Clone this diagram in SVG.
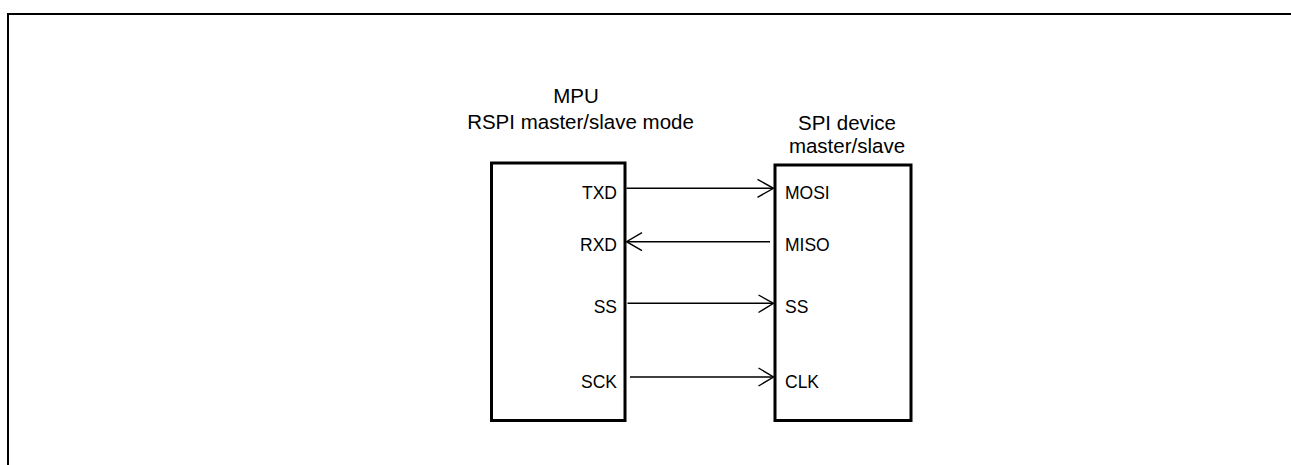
<svg xmlns="http://www.w3.org/2000/svg" width="1291" height="465" viewBox="0 0 1291 465">
<style>
.frame{fill:none;stroke:#000;stroke-width:2}
.box{fill:#fff;stroke:#000;stroke-width:3}
.title{font-family:"Liberation Sans",Arial,sans-serif;font-size:20.5px;fill:#000;text-anchor:middle}
.lbl{font-family:"Liberation Sans",Arial,sans-serif;font-size:17.5px;fill:#000}
.r{text-anchor:end}
.conn{fill:none;stroke:#000;stroke-width:1.4}
.head{fill:none;stroke:#000;stroke-width:1.4;stroke-linejoin:miter}
</style>
<rect width="1291" height="465" fill="#fff"/>
<path class="frame" d="M8,466 V14 H1292"/>
<g id="mpu">
<text class="title" x="576" y="102.7">MPU</text>
<text class="title" x="580.5" y="128.5">RSPI master/slave mode</text>
<rect class="box" x="491.5" y="163" width="133.5" height="257.5"/>
<text class="lbl r" x="617" y="199.3">TXD</text>
<text class="lbl r" x="617" y="250.7">RXD</text>
<text class="lbl r" x="617" y="312.7">SS</text>
<text class="lbl r" x="617" y="388.3">SCK</text>
</g>
<g id="spi">
<text class="title" x="847" y="130">SPI device</text>
<text class="title" x="847" y="153">master/slave</text>
<rect class="box" x="775" y="165" width="136" height="255.5"/>
<text class="lbl" x="785" y="199.3">MOSI</text>
<text class="lbl" x="785" y="250.7">MISO</text>
<text class="lbl" x="785" y="312.7">SS</text>
<text class="lbl" x="785" y="388.3">CLK</text>
</g>
<g id="connectors">
<path class="conn" d="M626.5,188.3 H773"/>
<path class="head" d="M757.5,179.3 L773.5,188.3 L757.5,197.3"/>
<path class="conn" d="M770,241.7 H627"/>
<path class="head" d="M642,232.7 L626.5,241.7 L642,250.7"/>
<path class="conn" d="M627.5,303.3 H773"/>
<path class="head" d="M758.5,295 L773.5,303.3 L758.5,312.5"/>
<path class="conn" d="M630,377 H773"/>
<path class="head" d="M758.5,368 L773.5,377 L758.5,386"/>
</g>
</svg>
